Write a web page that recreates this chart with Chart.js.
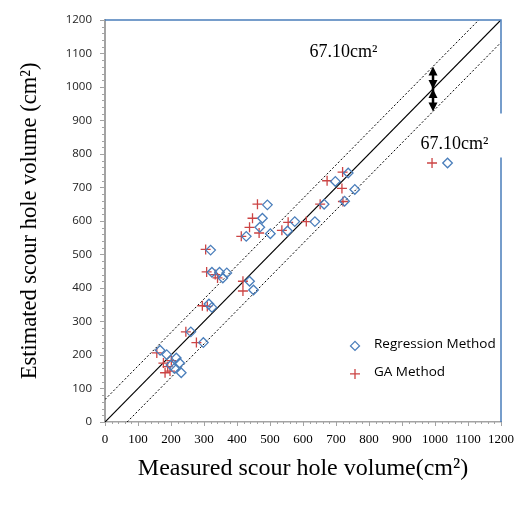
<!DOCTYPE html>
<html>
<head>
<meta charset="utf-8">
<script src="https://cdn.jsdelivr.net/npm/chart.js"></script>
<style>
    html, body { margin: 0; padding: 0; background: #fff; }
    canvas { display: block; }
</style>
</head>
<body>
<canvas id="scour" width="524" height="509"></canvas>
<script>
// measured vs estimated scour hole volume (cm2)
const regMeasured = [167, 187, 216, 226, 231, 210, 200, 260, 298, 315, 324, 320, 324, 347, 357, 369, 428, 438, 450, 469, 477, 492, 501, 553, 575, 636, 664, 698, 737, 726, 757, 1038]
const regEstimated = [214, 201, 191, 176, 147, 160, 170, 269, 237, 352, 342, 513, 447, 447, 430, 445, 554, 420, 394, 581, 608, 648, 562, 570, 598, 598, 650, 718, 743, 659, 694, 773]
const gaMeasured = [157, 177, 201, 182, 197, 190, 245, 277, 295, 310, 305, 308, 334, 341, 413, 418, 418, 438, 447, 462, 467, 536, 555, 610, 652, 673, 718, 720, 721, 991]
const gaEstimated = [206, 176, 183, 147, 152, 165, 269, 237, 347, 345, 515, 448, 440, 430, 554, 420, 391, 581, 608, 650, 564, 572, 596, 598, 650, 720, 697, 746, 658, 773]

const seriesNames = ['Regression Method', 'GA Method']
const axisMin = 0
const axisMax = 1200
const axisStep = 100
const minorStep = 20

// +/- band round the 1:1 line
const band = 67.1
const bandText = '67.10cm²'
const arrowAt = 994

;(() => {
    const toPoints = (xs, ys) => xs.map((v, i) => ({ x: v, y: ys[i] }))

    const blue = '#4a7ebb'
    const red = '#cc4444'
    const axisGrey = '#a3a3a3'
    const serif = 'Liberation Serif'

    const decorations = {
        id: 'decorations',
        afterDraw: (chart) => {
            const { ctx, chartArea: a, scales } = chart
            const sx = scales.x
            const sy = scales.y
            ctx.save()

            // tick marks, major and minor
            ctx.strokeStyle = axisGrey
            ctx.lineWidth = 1
            for (let v = axisMin; v <= axisMax; v += minorStep) {
                const major = v % axisStep === 0
                const py = Math.round(sy.getPixelForValue(v)) + 0.5
                ctx.beginPath()
                ctx.moveTo(a.left - (major ? 5 : 3), py)
                ctx.lineTo(a.left, py)
                ctx.stroke()
                const px = Math.round(sx.getPixelForValue(v)) + 0.5
                ctx.beginPath()
                ctx.moveTo(px, a.bottom)
                ctx.lineTo(px, a.bottom + (major ? 4 : 2))
                ctx.stroke()
            }

            // second label sits on the right frame and breaks it
            const lx = sx.getPixelForValue(956)
            const ly = sy.getPixelForValue(816)

            // blue frame on top and right
            ctx.strokeStyle = blue
            ctx.lineWidth = 1.5
            ctx.beginPath()
            ctx.moveTo(a.left, a.top)
            ctx.lineTo(a.right, a.top)
            ctx.lineTo(a.right, ly - 35)
            ctx.moveTo(a.right, ly + 9)
            ctx.lineTo(a.right, a.bottom)
            ctx.stroke()

            // double arrows across the band
            const ax = sx.getPixelForValue(arrowAt)
            const yTop = sy.getPixelForValue(arrowAt + band)
            const yMid = sy.getPixelForValue(arrowAt)
            const yBot = sy.getPixelForValue(arrowAt - band)
            const head = (py, dir) => {
                ctx.beginPath()
                ctx.moveTo(ax, py)
                ctx.lineTo(ax - 4.5, py - dir * 9)
                ctx.lineTo(ax + 4.5, py - dir * 9)
                ctx.closePath()
                ctx.fill()
            }
            ctx.fillStyle = '#000'
            ctx.strokeStyle = '#000'
            ctx.lineWidth = 2.5
            ctx.beginPath()
            ctx.moveTo(ax, yTop + 6)
            ctx.lineTo(ax, yBot - 6)
            ctx.stroke()
            head(yTop, -1)
            head(yMid, 1)
            head(yMid, -1)
            head(yBot, 1)

            // band labels
            ctx.font = `18px "${serif}"`
            ctx.textBaseline = 'alphabetic'
            ctx.textAlign = 'left'
            ctx.fillText(bandText, sx.getPixelForValue(620), sy.getPixelForValue(1089))
            ctx.fillText(bandText, lx, ly)

            // legend inside the plot
            const gx = a.left + 250
            const rows = [a.top + 326, a.top + 354]
            ctx.lineWidth = 1.3
            ctx.strokeStyle = blue
            ctx.beginPath()
            ctx.moveTo(gx, rows[0] - 4.5)
            ctx.lineTo(gx + 4.5, rows[0])
            ctx.lineTo(gx, rows[0] + 4.5)
            ctx.lineTo(gx - 4.5, rows[0])
            ctx.closePath()
            ctx.stroke()
            ctx.strokeStyle = red
            ctx.beginPath()
            ctx.moveTo(gx - 5, rows[1])
            ctx.lineTo(gx + 5, rows[1])
            ctx.moveTo(gx, rows[1] - 5)
            ctx.lineTo(gx, rows[1] + 5)
            ctx.stroke()
            ctx.fillStyle = '#000'
            ctx.font = '13.5px "Open Sans"'
            ctx.textBaseline = 'middle'
            seriesNames.forEach((name, i) => ctx.fillText(name, gx + 19, rows[i] - 2))

            ctx.restore()
        },
    }

    const lineSet = (pts, dash, width) => ({
        data: pts,
        showLine: true,
        borderColor: '#000',
        borderWidth: width,
        borderDash: dash,
        pointRadius: 0,
        pointHoverRadius: 0,
    })

    new Chart(document.getElementById('scour'), {
        type: 'scatter',
        data: {
            datasets: [
                {
                    label: seriesNames[0],
                    data: toPoints(regMeasured, regEstimated),
                    pointStyle: 'rectRot',
                    pointRadius: 4.8,
                    borderColor: blue,
                    backgroundColor: 'rgba(0,0,0,0)',
                    borderWidth: 1.3,
                },
                {
                    label: seriesNames[1],
                    data: toPoints(gaMeasured, gaEstimated),
                    pointStyle: 'cross',
                    pointRadius: 5,
                    borderColor: red,
                    borderWidth: 1.3,
                },
                lineSet([{ x: axisMin, y: axisMin }, { x: axisMax, y: axisMax }], [], 1.2),
                lineSet([{ x: axisMin, y: axisMin + band }, { x: axisMax - band, y: axisMax }], [2, 2], 1),
                lineSet([{ x: axisMin + band, y: axisMin }, { x: axisMax, y: axisMax - band }], [2, 2], 1),
            ],
        },
        options: {
            responsive: false,
            animation: false,
            events: [],
            layout: { padding: { top: 12, right: 12, left: 0, bottom: 0 } },
            plugins: {
                legend: { display: false },
                tooltip: { enabled: false },
            },
            scales: {
                x: {
                    min: axisMin,
                    max: axisMax,
                    afterFit: (s) => { s.height = 87 },
                    grid: { display: false, drawTicks: false },
                    border: { display: true, color: axisGrey, width: 1.5 },
                    ticks: {
                        stepSize: axisStep,
                        padding: 10,
                        color: '#000',
                        maxRotation: 0,
                        autoSkip: false,
                        callback: (v) => String(v),
                        font: { family: serif, size: 13 },
                    },
                    title: {
                        display: true,
                        text: 'Measured scour hole volume(cm²)',
                        color: '#000',
                        font: { family: serif, size: 24, lineHeight: 1 },
                        padding: { top: 0, bottom: 28 },
                    },
                },
                y: {
                    min: axisMin,
                    max: axisMax,
                    afterFit: (s) => { s.width = 105 },
                    grid: { display: false, drawTicks: false },
                    border: { display: true, color: axisGrey, width: 2 },
                    ticks: {
                        stepSize: axisStep,
                        padding: 13,
                        color: '#222',
                        autoSkip: false,
                        callback: (v) => String(v),
                        font: { family: 'Open Sans', size: 11.5 },
                    },
                    title: {
                        display: true,
                        text: 'Estimated scour hole volume (cm²)',
                        color: '#000',
                        font: { family: serif, size: 22.5, lineHeight: 1 },
                        padding: { top: 19, bottom: 0 },
                    },
                },
            },
        },
        plugins: [decorations],
    })
})()
</script>
</body>
</html>
